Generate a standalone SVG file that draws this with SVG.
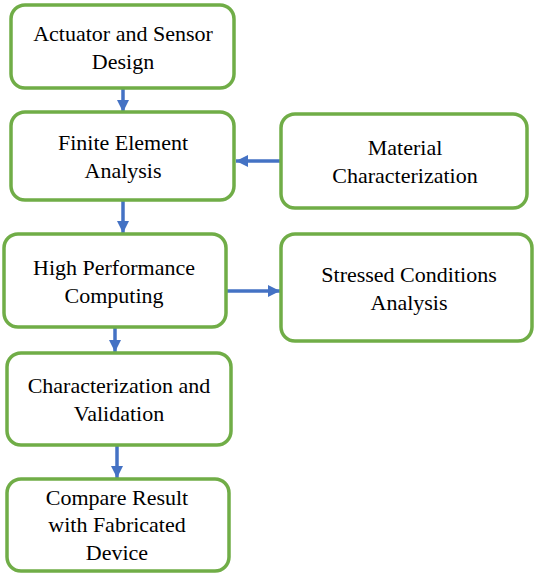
<svg xmlns="http://www.w3.org/2000/svg" width="535" height="576" viewBox="0 0 535 576">
<style>
.box{fill:#ffffff;stroke:#70AD47;stroke-width:3.5}
.t{font-family:"Liberation Serif","Times New Roman",serif;font-size:22px;fill:#000;text-anchor:middle}
.c{stroke:#4472C4;stroke-width:3.5;fill:none}
</style>
<defs>
<marker id="ah" viewBox="0 0 10 10" refX="10" refY="5" markerWidth="3.5" markerHeight="3.5" markerUnits="strokeWidth" orient="auto">
<path d="M0,0 L10,5 L0,10 z" fill="#4472C4"/>
</marker>
</defs>
<rect width="535" height="576" fill="#ffffff"/>
<g id="connectors">
<line class="c" x1="123" y1="89" x2="123" y2="112" marker-end="url(#ah)"/>
<line class="c" x1="123" y1="201" x2="123" y2="233" marker-end="url(#ah)"/>
<line class="c" x1="281" y1="161" x2="236" y2="161" marker-end="url(#ah)"/>
<line class="c" x1="226" y1="291" x2="280" y2="291" marker-end="url(#ah)"/>
<line class="c" x1="115" y1="328" x2="115" y2="352" marker-end="url(#ah)"/>
<line class="c" x1="117" y1="446" x2="117" y2="478" marker-end="url(#ah)"/>
</g>
<g id="n1">
<rect class="box" x="11" y="5" width="223" height="83" rx="14"/>
<text class="t" x="123" y="41">Actuator and Sensor</text>
<text class="t" x="123" y="69">Design</text>
</g>
<g id="n2">
<rect class="box" x="11" y="112" width="223" height="88" rx="14"/>
<text class="t" x="123" y="150">Finite Element</text>
<text class="t" x="123" y="178">Analysis</text>
</g>
<g id="n3">
<rect class="box" x="281" y="114" width="246" height="94" rx="14"/>
<text class="t" x="405" y="155">Material</text>
<text class="t" x="405" y="183">Characterization</text>
</g>
<g id="n4">
<rect class="box" x="4" y="234" width="222" height="93" rx="14"/>
<text class="t" x="114" y="275">High Performance</text>
<text class="t" x="114" y="303">Computing</text>
</g>
<g id="n5">
<rect class="box" x="281" y="234" width="251" height="107" rx="14"/>
<text class="t" x="409" y="282">Stressed Conditions</text>
<text class="t" x="409" y="310">Analysis</text>
</g>
<g id="n6">
<rect class="box" x="7" y="353" width="224" height="92" rx="14"/>
<text class="t" x="119" y="393">Characterization and</text>
<text class="t" x="119" y="421">Validation</text>
</g>
<g id="n7">
<rect class="box" x="7" y="479" width="222" height="92" rx="14"/>
<text class="t" x="117" y="505">Compare Result</text>
<text class="t" x="117" y="532">with Fabricated</text>
<text class="t" x="117" y="560">Device</text>
</g>
</svg>
